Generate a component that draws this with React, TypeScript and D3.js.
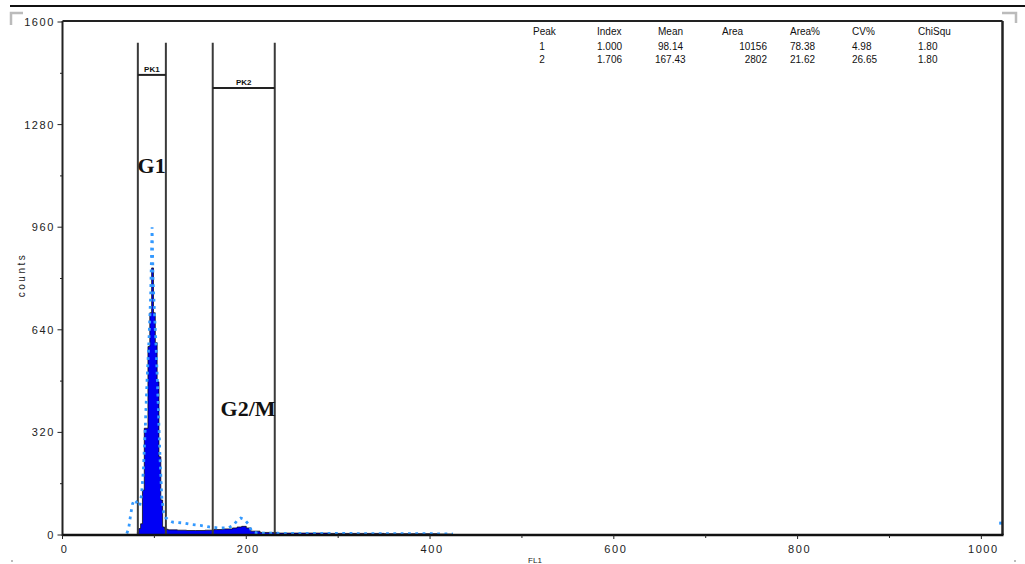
import React from "react";
import * as d3 from "d3";

// Histogram bins (left channel edge) and counts
const histStart = [81, 83, 85, 87, 89, 91, 93, 95, 97, 99, 101, 103, 105, 107, 109, 111, 115, 125, 135, 145, 155, 165, 175, 185, 190, 195, 200, 205, 215, 235, 260, 290, 320, 350, 380, 410, 425];
const histCount = [8, 20, 35, 140, 333, 333, 588, 693, 833, 693, 600, 478, 244, 109, 25, 18, 16, 15, 14, 14, 15, 17, 19, 22, 25, 27, 22, 12, 8, 6, 6, 5, 5, 4, 4, 3, 0];

// Fitted model curve (dotted)
const fitChannel = [70, 72, 74, 76, 78, 80, 82, 84, 86, 88, 90, 92, 94, 96, 97.5, 98.5, 100, 102, 104, 106, 108, 110, 112, 116, 120, 130, 140, 150, 160, 170, 180, 186, 190, 194, 198, 202, 206, 212, 250, 300, 350, 400, 425];
const fitCount = [5, 20, 60, 95, 110, 105, 95, 90, 125, 200, 330, 480, 600, 750, 960, 800, 700, 580, 420, 250, 120, 70, 55, 45, 40, 38, 33, 30, 25, 22, 22, 30, 45, 53, 48, 35, 12, 6, 5, 5, 4, 4, 3];

const overflowChannel = [1021];
const overflowCount = [37];

// Gates
const gateNames = ["PK1", "PK2"];
const gateLo = [82, 163.5];
const gateHi = [112.5, 231];
const gateTop = 1535;
const gateBar = [1435, 1394];

// Phase labels
const phaseNames = ["G1", "G2/M"];
const phaseChannel = [97, 202];
const phaseCount = [1130, 370];

// Axis ticks
const yTicks = [0, 320, 640, 960, 1280, 1600];
const yMinor = [160, 480, 800, 1120, 1440];
const xTicks = [0, 200, 400, 600, 800, 1000];
const xMinor = [100, 300, 500, 700, 900];

// Stats table
const statHeaders = ["Peak", "Index", "Mean", "Area", "Area%", "CV%", "ChiSqu"];
const statRows = [
  ["1", "1.000", "98.14", "10156", "78.38", "4.98", "1.80"],
  ["2", "1.706", "167.43", "2802", "21.62", "26.65", "1.80"],
];

const W = 1025;
const H = 564;
const M = { left: 62.5, right: 1002.5, top: 22, bottom: 535 };

export default function App() {
  const x = d3.scaleLinear().domain([0, 1023]).range([M.left, M.right]);
  const y = d3.scaleLinear().domain([0, 1600]).range([M.bottom, M.top]);

  const histData = histStart.map((c, i) => ({ c, v: histCount[i] }));
  const area = d3
    .area<{ c: number; v: number }>()
    .x((d) => x(d.c))
    .y0(y(0))
    .y1((d) => y(d.v))
    .curve(d3.curveStepAfter);
  const outline = d3
    .line<{ c: number; v: number }>()
    .x((d) => x(d.c))
    .y((d) => y(d.v))
    .curve(d3.curveStepAfter);

  const fitData = fitChannel.map((c, i) => ({ c, v: fitCount[i] }));
  const fitLine = d3
    .line<{ c: number; v: number }>()
    .x((d) => x(d.c))
    .y((d) => y(d.v));

  const colX = [533, 597, 658, 722, 790, 852, 918];
  const rowY = [35, 50, 63];
  const tableFont = { fontFamily: "'Liberation Sans', Arial, sans-serif", fontSize: 10, fill: "#111" };

  return (
    <svg
      width={W}
      height={H}
      style={{ position: "absolute", left: 0, top: 0, background: "#fff" }}
    >
      <rect x={0} y={0} width={W} height={H} fill="#fff" />
      {/* top rule */}
      <line x1={10} x2={1025} y1={6} y2={6} stroke="#111" strokeWidth={2} />
      {/* corner marks */}
      <path d="M11,25 V13 H23" fill="none" stroke="#bbb" strokeWidth={2.5} />
      <path d="M1002,13 H1016 V23" fill="none" stroke="#bbb" strokeWidth={2.5} />
      <rect x={11} y={560} width={2} height={2} fill="#bbb" />
      <rect x={1014} y={560} width={2} height={2} fill="#bbb" />

      {/* histogram */}
      <path d={area(histData) || ""} fill="#0000f5" />
      <path d={outline(histData) || ""} fill="none" stroke="#000" strokeWidth={0.7} />

      {/* gates */}
      {gateNames.map((g, i) => (
        <g key={g}>
          <line x1={x(gateLo[i])} x2={x(gateLo[i])} y1={y(gateTop)} y2={y(0)} stroke="#3a3a3a" strokeWidth={2} />
          <line x1={x(gateHi[i])} x2={x(gateHi[i])} y1={y(gateTop)} y2={y(0)} stroke="#3a3a3a" strokeWidth={2} />
          <line x1={x(gateLo[i])} x2={x(gateHi[i])} y1={y(gateBar[i])} y2={y(gateBar[i])} stroke="#222" strokeWidth={2} />
          <text
            x={(x(gateLo[i]) + x(gateHi[i])) / 2}
            y={y(gateBar[i]) - 3}
            textAnchor="middle"
            fontFamily="'Liberation Sans', Arial, sans-serif"
            fontWeight="bold"
            fontSize={8}
            fill="#111"
          >
            {g}
          </text>
        </g>
      ))}

      {/* fit curve */}
      <path
        d={fitLine(fitData) || ""}
        fill="none"
        stroke="#3399ff"
        strokeWidth={2.8}
        strokeDasharray="2.8,4.5"
      />
      {overflowChannel.map((c, i) => (
        <rect key={c} x={x(c) - 1.5} y={y(overflowCount[i]) - 1.5} width={3} height={3} fill="#3399ff" />
      ))}

      {/* phase labels */}
      {phaseNames.map((p, i) => (
        <text
          key={p}
          x={x(phaseChannel[i])}
          y={y(phaseCount[i])}
          textAnchor="middle"
          fontFamily="'Liberation Serif', 'Times New Roman', serif"
          fontWeight="bold"
          fontSize={22}
          fill="#111"
        >
          {p}
        </text>
      ))}

      {/* frame */}
      <line x1={M.left} x2={M.right} y1={M.top - 1} y2={M.top - 1} stroke="#222" strokeWidth={2} />
      <line x1={M.right} x2={M.right} y1={M.top - 1} y2={M.bottom} stroke="#222" strokeWidth={2.5} />
      <line x1={M.left} x2={M.left} y1={M.top - 1} y2={M.bottom + 1} stroke="#222" strokeWidth={2} />
      <line x1={M.left} x2={M.right + 1} y1={M.bottom} y2={M.bottom} stroke="#111" strokeWidth={2.5} />

      {/* y ticks */}
      {yTicks.map((t) => (
        <g key={t}>
          <line x1={M.left - 5} x2={M.left} y1={y(t)} y2={y(t)} stroke="#222" strokeWidth={1} />
          <text
            x={55}
            y={y(t) + 4}
            textAnchor="end"
            fontFamily="'Liberation Sans', Arial, sans-serif"
            fontSize={11}
            letterSpacing={1.6}
            fill="#222"
          >
            {t}
          </text>
        </g>
      ))}
      {yMinor.map((t) => (
        <line key={t} x1={M.left - 2.5} x2={M.left} y1={y(t)} y2={y(t)} stroke="#222" strokeWidth={1} />
      ))}
      <text
        transform={`translate(25,275) rotate(-90)`}
        textAnchor="middle"
        fontFamily="'Liberation Sans', Arial, sans-serif"
        fontSize={10}
        letterSpacing={2.5}
        fill="#222"
      >
        counts
      </text>

      {/* x ticks */}
      {xTicks.map((t) => (
        <g key={t}>
          <line x1={x(t)} x2={x(t)} y1={M.bottom} y2={M.bottom + 4} stroke="#222" strokeWidth={1} />
          <text
            x={x(t) + 2}
            y={553}
            textAnchor="middle"
            fontFamily="'Liberation Sans', Arial, sans-serif"
            fontSize={11}
            letterSpacing={1.6}
            fill="#222"
          >
            {t}
          </text>
        </g>
      ))}
      {xMinor.map((t) => (
        <line key={t} x1={x(t)} x2={x(t)} y1={M.bottom} y2={M.bottom + 3} stroke="#222" strokeWidth={1} />
      ))}
      <text
        x={535}
        y={563}
        textAnchor="middle"
        fontFamily="'Liberation Sans', Arial, sans-serif"
        fontSize={8}
        fill="#222"
      >
        FL1
      </text>

      {/* stats table */}
      {statHeaders.map((h, i) => (
        <text key={h} x={colX[i]} y={rowY[0]} {...tableFont}>
          {h}
        </text>
      ))}
      {statRows.map((row, r) =>
        row.map((v, i) => {
          const anchor = i === 0 ? "middle" : i === 3 ? "end" : "start";
          const px = i === 0 ? 542 : i === 3 ? 767 : i === 2 && v.length > 5 ? colX[i] - 3 : colX[i];
          return (
            <text key={`${r}-${i}`} x={px} y={rowY[r + 1]} textAnchor={anchor} {...tableFont}>
              {v}
            </text>
          );
        })
      )}
    </svg>
  );
}
